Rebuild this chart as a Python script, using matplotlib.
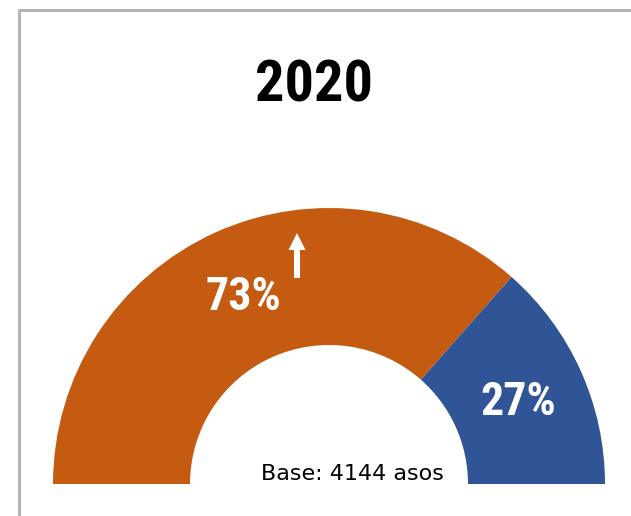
import matplotlib
matplotlib.use('Agg')
import matplotlib.pyplot as plt
from matplotlib.patches import Wedge

# Data
categories = ['Sube', 'Baja']
shares = [73, 27]
colors = ['#C55A11', '#2F5597']
title = '2020'
base_note = 'Base: 4144 asos'

narrow = 'Roboto Condensed'

W, H = 631, 516
fig = plt.figure(figsize=(W / 100, H / 100), dpi=100)
ax = fig.add_axes([0, 0, 1, 1])
ax.set_xlim(0, W)
ax.set_ylim(0, H)
ax.axis('off')

# frame (left + top border)
ax.plot([18.5, 18.5, W], [0, H - 9.5, H - 9.5], color='#b4b4b4', lw=2.2)

cx, cy = 329, H - 484
r_out, r_in = 276, 139

# half doughnut, first slice starts at the left
total = sum(shares)
start = 180
for share, col in zip(shares, colors):
    span = 180 * share / total
    ax.add_patch(Wedge((cx, cy), r_out, start - span, start,
                       width=r_out - r_in, facecolor=col, edgecolor='none'))
    start -= span

ax.text(314, H - 86, title, ha='center', va='center', fontsize=42,
        fontweight='bold', family=narrow)

ax.text(243, H - 297, f'{shares[0]}%', ha='center', va='center', fontsize=33,
        fontweight='bold', color='white', family=narrow)
ax.text(518, H - 402, f'{shares[1]}%', ha='center', va='center', fontsize=33,
        fontweight='bold', color='white', family=narrow)

# up arrow next to the 73%
ax.arrow(297, H - 278, 0, 45, width=6, head_width=17, head_length=17,
         length_includes_head=True, color='white', lw=0)

ax.text(352, H - 474, base_note, ha='center', va='center', fontsize=16,
        color='black', family='DejaVu Sans')

fig.savefig('out.png', dpi=100)
